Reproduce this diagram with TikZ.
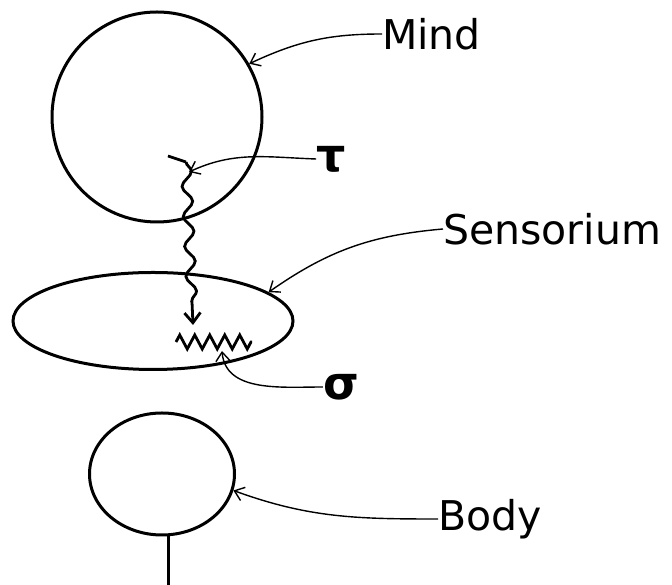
\documentclass[tikz,border=0pt]{standalone}
\usepackage{fontspec}
\newfontfamily\handfont{DejaVu Sans}
\usetikzlibrary{positioning,arrows.meta,shapes.geometric,decorations.pathmorphing,calc}
\tikzset{
  blob/.style={draw, line width=3pt, inner sep=0pt},
  pointer/.style={-{Straight Barb[length=9pt,width=14pt]}, line width=1.4pt},
  lbl/.style={font=\handfont\fontsize{41}{45}\selectfont, inner sep=0pt, anchor=west},
  greek/.style={font=\handfont\bfseries\fontsize{46}{50}\selectfont, inner sep=0pt},
  wavy/.style={line width=2.8pt, decorate,
               decoration={snake, amplitude=5pt, segment length=30pt, post length=10pt}},
}
\begin{document}
\begin{tikzpicture}[x=1pt, y=1pt]
  \useasboundingbox (0,0) rectangle (672,585);
  % the three bodies
  \node[blob, circle, minimum size=210pt] (mind) at (157,468) {};
  \node[blob, ellipse, minimum width=280pt, minimum height=97pt] (sens) at (153,264) {};
  \node[blob, ellipse, minimum width=145pt, minimum height=122pt] (body) at (162,111) {};
  \draw[line width=3pt] ([xshift=6pt]body.south) -- ++(0,-50);
  % labels
  \node[lbl] (mindlbl) at (382,551) {Mind};
  \node[greek] (taulbl) at (331,426) {τ};
  \node[lbl] (senslbl) at (443,356) {Sensorium};
  \node[greek] (siglbl) at (341,198) {σ};
  \node[lbl] (bodylbl) at (438,66) {Body};
  % squiggle from mind into the sensorium
  \coordinate (tau0) at (168,429);
  \coordinate (tau1) at (186,423);
  \coordinate (tauend) at (193,260);
  \draw[line width=2.8pt] (tau0) -- (tau1);
  \draw[wavy, -{Straight Barb[length=10pt,width=16pt]}] (tau1) -- (tauend);
  % zigzag sigma mark
  \coordinate (zzL) at (176,243);
  \coordinate (zzR) at (252,243);
  \coordinate (zzbot) at (222,234);
  \draw[line width=2.8pt, decorate, decoration={zigzag, amplitude=7pt, segment length=15pt}] (zzL) -- (zzR);
  % pointers
  \draw[pointer] (mindlbl.west) to[out=180, in=25] (mind.30);
  \draw[pointer] (taulbl.west) to[out=178, in=25] (189,413);
  \draw[pointer] (senslbl.west) to[out=185, in=35] (sens.14);
  \draw[pointer] (siglbl.west) to[out=180, in=-85] (zzbot);
  \draw[pointer] (bodylbl.west) to[out=180, in=-20] (body.-13);
\end{tikzpicture}
\end{document}
